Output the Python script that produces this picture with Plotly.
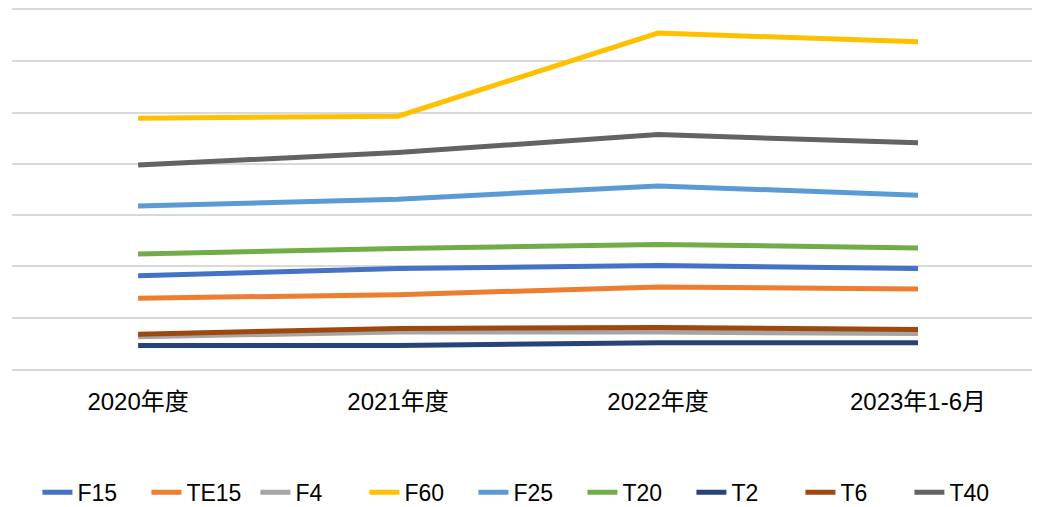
import plotly.graph_objects as go

# Kategorien (x-Achse)
periods = ['2020年度', '2021年度', '2022年度', '2023年1-6月']

# Werte je Produkt (relative Einheiten)
F15 = [1.82, 1.96, 2.02, 1.96]
TE15 = [1.38, 1.45, 1.60, 1.56]
F4 = [0.63, 0.72, 0.72, 0.69]
F60 = [4.89, 4.93, 6.55, 6.38]
F25 = [3.18, 3.31, 3.57, 3.39]
T20 = [2.24, 2.35, 2.43, 2.36]
T2 = [0.46, 0.46, 0.51, 0.51]
T6 = [0.68, 0.79, 0.81, 0.77]
T40 = [3.98, 4.22, 4.57, 4.41]

series = [
    ('F15', F15, '#4472C4'),
    ('TE15', TE15, '#ED7D31'),
    ('F4', F4, '#A5A5A5'),
    ('F60', F60, '#FFC000'),
    ('F25', F25, '#5B9BD5'),
    ('T20', T20, '#70AD47'),
    ('T2', T2, '#264478'),
    ('T6', T6, '#9E480E'),
    ('T40', T40, '#636363'),
]

fig = go.Figure()

for name, values, color in series:
    fig.add_trace(go.Scatter(
        x=periods,
        y=values,
        mode='lines',
        name=name,
        line={'color': color, 'width': 5},
    ))

# Seite hat ca. 8px Rand -> Ränder entsprechend verschoben
fig.update_layout(
    width=1040,
    height=507,
    margin={'l': 4, 'r': 0, 't': 2, 'b': 146},
    plot_bgcolor='white',
    paper_bgcolor='white',
    font={'family': 'Liberation Sans, Arial, Noto Sans CJK SC', 'size': 23, 'color': 'black'},
    xaxis={
        'type': 'category',
        'range': [-0.485, 3.50],
        'automargin': False,
        'showgrid': False,
        # untere und obere Gitterlinie als Achsenlinie
        'showline': True,
        'mirror': True,
        'linecolor': '#D9D9D9',
        'linewidth': 1.5,
        'zeroline': False,
        'ticks': 'outside',
        'ticklen': 10,
        'tickcolor': 'rgba(0,0,0,0)',
        'tickfont': {'size': 24},
    },
    yaxis={
        'range': [0, 7],
        'dtick': 1,
        'automargin': False,
        'showticklabels': False,
        'showgrid': True,
        'gridcolor': '#D9D9D9',
        'gridwidth': 1.5,
        'zeroline': False,
        'showline': False,
    },
    legend={
        'orientation': 'h',
        'x': 0.498,
        'xanchor': 'center',
        'yref': 'container',
        'y': 0.045,
        'yanchor': 'middle',
        'font': {'size': 23},
        'itemwidth': 30,
        'entrywidth': 64,
    },
)

fig.write_html('out.html')
